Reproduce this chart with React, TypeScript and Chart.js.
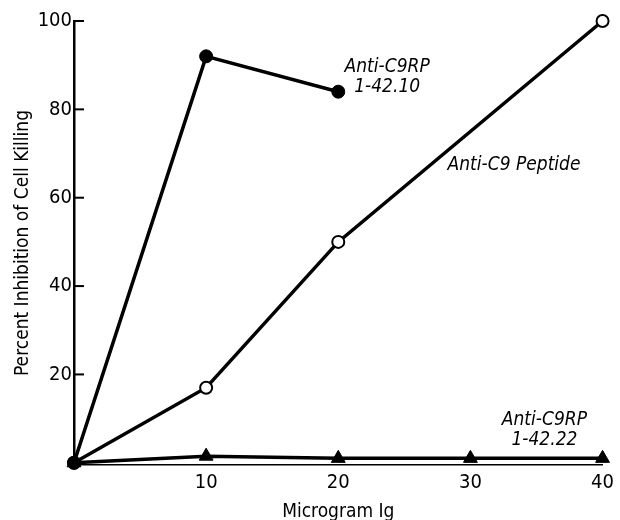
import React, { useEffect, useRef } from "react";
import { Chart, registerables } from "chart.js";

Chart.register(...registerables);

// Anti-C9RP 1-42.10 (filled circles)
const rp10X = [0, 10, 20];
const rp10Y = [0, 92, 84];
// Anti-C9 Peptide (open circles)
const peptideX = [0, 10, 20, 40];
const peptideY = [0, 17, 50, 100];
// Anti-C9RP 1-42.22 (filled triangles)
const rp22X = [0, 10, 20, 30, 40];
const rp22Y = [0, 1.5, 1, 1, 1];

const xTicks = [10, 20, 30, 40];
const yTicks = [20, 40, 60, 80, 100];

const xTitle = "Microgram Ig";
const yTitle = "Percent Inhibition of Cell Killing";

const labelLines = [
  ["Anti-C9RP", "1-42.10"],
  ["Anti-C9 Peptide"],
  ["Anti-C9RP", "1-42.22"],
];
const labelX = [23.7, 33.3, 35.6];
const labelY = [89.5, 67.4, 9.7];

const FONT = '"Liberation Sans Narrow", "DejaVu Sans Condensed", "Liberation Sans", Arial, sans-serif';

const toPts = (xs: number[], ys: number[]) => xs.map((x, i) => ({ x, y: ys[i] }));

const decorPlugin = {
  id: "decor",
  afterDatasetsDraw(chart: any) {
    const { ctx, scales, chartArea } = chart;
    const x = scales.x;
    const y = scales.y;
    ctx.save();
    // inward y tick marks
    ctx.strokeStyle = "#000";
    ctx.lineWidth = 2;
    yTicks.forEach((v) => {
      const py = y.getPixelForValue(v);
      ctx.beginPath();
      ctx.moveTo(chartArea.left, py);
      ctx.lineTo(chartArea.left + 10, py);
      ctx.stroke();
    });
    // labels
    ctx.fillStyle = "#000";
    ctx.font = `italic 19px ${FONT}`;
    ctx.textAlign = "center";
    ctx.textBaseline = "middle";
    labelLines.forEach((lines, i) => {
      const px = x.getPixelForValue(labelX[i]);
      const py = y.getPixelForValue(labelY[i]);
      lines.forEach((t, j) => ctx.fillText(t, px, py + j * 20));
    });
    ctx.restore();
  },
};

export default function App() {
  const ref = useRef<HTMLCanvasElement | null>(null);
  useEffect(() => {
    if (!ref.current) return;
    const chart = new Chart(ref.current, {
      type: "line",
      data: {
        datasets: [
          {
            label: "Anti-C9RP 1-42.10",
            data: toPts(rp10X, rp10Y),
            borderColor: "#000",
            backgroundColor: "#000",
            borderWidth: 3.5,
            pointStyle: "circle",
            pointRadius: 6.5,
            pointBorderWidth: 1,
            pointBackgroundColor: "#000",
            pointBorderColor: "#000",
            clip: false as any,
          },
          {
            label: "Anti-C9 Peptide",
            data: toPts(peptideX, peptideY),
            borderColor: "#000",
            backgroundColor: "#fff",
            borderWidth: 3.5,
            pointStyle: "circle",
            pointRadius: 6,
            pointBorderWidth: 2,
            pointBackgroundColor: "#fff",
            pointBorderColor: "#000",
            clip: false as any,
          },
          {
            label: "Anti-C9RP 1-42.22",
            data: toPts(rp22X, rp22Y),
            borderColor: "#000",
            backgroundColor: "#000",
            borderWidth: 3.5,
            pointStyle: "triangle",
            pointRadius: 8,
            pointBorderWidth: 1,
            pointBackgroundColor: "#000",
            pointBorderColor: "#000",
            clip: false as any,
          },
        ],
      },
      options: {
        responsive: false,
        animation: false,
        layout: { padding: { top: 21, right: 11, left: 0, bottom: 0 } },
        plugins: {
          legend: { display: false },
          tooltip: { enabled: false },
        },
        scales: {
          x: {
            type: "linear",
            min: 0,
            max: 40,
            afterFit: (s: any) => {
              s.height = 55;
            },
            afterBuildTicks: (s: any) => {
              s.ticks = xTicks.map((v) => ({ value: v }));
            },
            grid: { display: false, drawTicks: false },
            border: { display: true, color: "#000", width: 1.5 },
            ticks: {
              color: "#000",
              font: { family: FONT, size: 20 },
              padding: 6,
            },
            title: {
              display: true,
              text: xTitle,
              color: "#000",
              font: { family: FONT, size: 19 },
              padding: { top: 9, bottom: -3 },
            },
          },
          y: {
            type: "linear",
            min: -0.5,
            max: 100,
            afterFit: (s: any) => {
              s.width = 74;
            },
            afterBuildTicks: (s: any) => {
              s.ticks = yTicks.map((v) => ({ value: v }));
            },
            grid: { display: false, drawTicks: false },
            border: { display: true, color: "#000", width: 2.5 },
            ticks: {
              color: "#000",
              font: { family: FONT, size: 20 },
              padding: 2,
            },
            title: {
              display: true,
              text: yTitle,
              color: "#000",
              font: { family: FONT, size: 19 },
              padding: { top: 12, bottom: 0 },
            },
          },
        },
      },
      plugins: [decorPlugin],
    });
    return () => chart.destroy();
  }, []);
  return (
    <div style={{ position: "absolute", left: 0, top: 0, width: 620, height: 520 }}>
      <canvas ref={ref} width={620} height={520} style={{ width: 620, height: 520 }} />
    </div>
  );
}
